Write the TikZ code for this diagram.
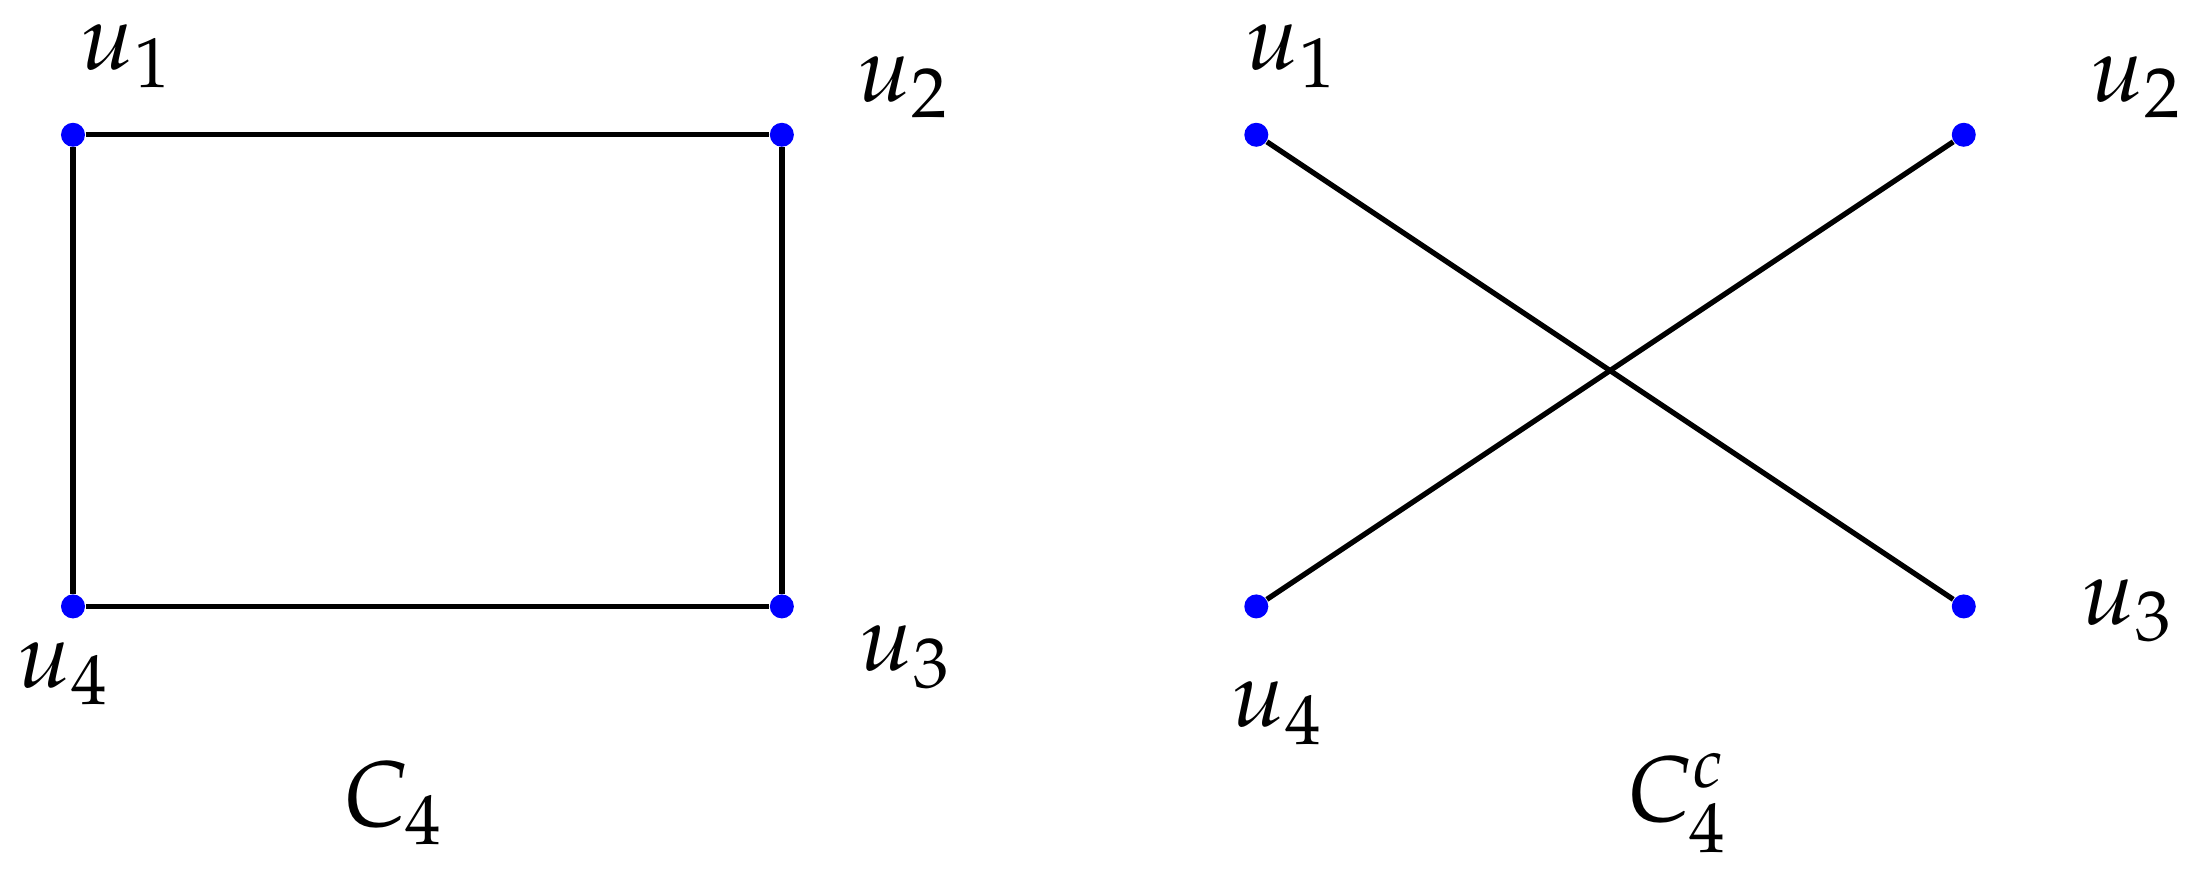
\documentclass[tikz,border=0pt]{standalone}
\usepackage{mathpazo}
\begin{document}
\begin{tikzpicture}[x=1.4037cm,y=-1.4037cm,
  vtx/.style={circle,fill=blue,inner sep=0pt,minimum size=0.24cm},
  lbl/.style={font=\fontsize{26.5}{32}\selectfont},
  edge/.style={line width=1.5pt}]
\path[use as bounding box] (0,0) rectangle (15.68,6.212);
\node[vtx] (a1) at (0.52,0.96) {};
\node[vtx] (a2) at (5.57,0.96) {};
\node[vtx] (a3) at (5.57,4.32) {};
\node[vtx] (a4) at (0.52,4.32) {};
\draw[edge] (a1)--(a2)--(a3)--(a4)--(a1);
\node[lbl] (la1) at (0.90,0.40) {$u_1$};
\node[lbl] (la2) at (6.43,0.62) {$u_2$};
\node[lbl] (la3) at (6.45,4.68) {$u_3$};
\node[lbl] (la4) at (0.45,4.80) {$u_4$};
\node[lbl] (ca) at (2.80,5.72) {$C_4$};
\node[vtx] (b1) at (8.95,0.96) {};
\node[vtx] (b2) at (13.99,0.96) {};
\node[vtx] (b3) at (13.99,4.32) {};
\node[vtx] (b4) at (8.95,4.32) {};
\draw[edge] (b1)--(b3);
\draw[edge] (b4)--(b2);
\node[lbl] (lb1) at (9.20,0.40) {$u_1$};
\node[lbl] (lb2) at (15.22,0.62) {$u_2$};
\node[lbl] (lb3) at (15.15,4.35) {$u_3$};
\node[lbl] (lb4) at (9.10,5.08) {$u_4$};
\node[lbl] (cb) at (11.95,5.72) {$C_4^c$};
\end{tikzpicture}
\end{document}
